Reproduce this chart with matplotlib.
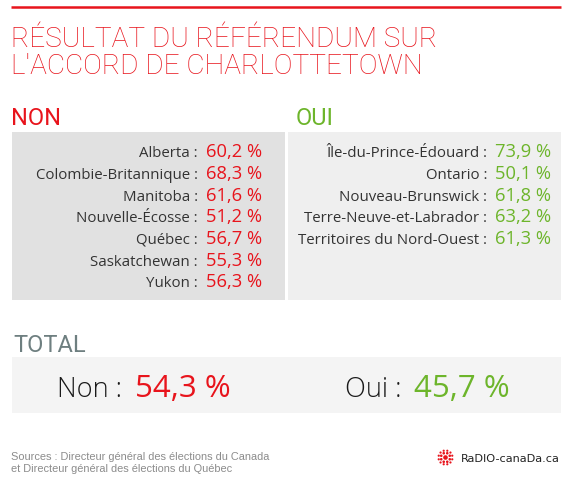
import matplotlib
matplotlib.use("Agg")
import matplotlib.pyplot as plt
from matplotlib.patches import Rectangle, Circle
import numpy as np

# Data
title_lines = ["RÉSULTAT DU RÉFÉRENDUM SUR", "L'ACCORD DE CHARLOTTETOWN"]
non_provinces = ["Alberta", "Colombie-Britannique", "Manitoba", "Nouvelle-Écosse",
                 "Québec", "Saskatchewan", "Yukon"]
non_values = [60.2, 68.3, 61.6, 51.2, 56.7, 55.3, 56.3]
oui_provinces = ["Île-du-Prince-Édouard", "Ontario", "Nouveau-Brunswick",
                 "Terre-Neuve-et-Labrador", "Territoires du Nord-Ouest"]
oui_values = [73.9, 50.1, 61.8, 63.2, 61.3]
total_labels = ["Non", "Oui"]
total_values = [54.3, 45.7]
sources = ["Sources : Directeur général des élections du Canada",
           "et Directeur général des élections du Québec"]

RED = "#e8141c"
GREEN = "#6db52b"
DARK = "#333333"

def fmt(v):
    return f"{v:.1f}".replace(".", ",") + " %"

W, H = 567, 480
fig = plt.figure(figsize=(W / 100, H / 100), dpi=100)
ax = fig.add_axes([0, 0, 1, 1])
ax.set_xlim(0, W)
ax.set_ylim(H, 0)
ax.axis("off")
fig.patch.set_facecolor("white")

r = fig.canvas.get_renderer()
inv = ax.transData.inverted()

def left_of(t):
    bb = t.get_window_extent(renderer=r)
    return inv.transform((bb.x0, bb.y0))[0]

def right_of(t):
    bb = t.get_window_extent(renderer=r)
    return inv.transform((bb.x1, bb.y0))[0]

# top red rule
ax.plot([11, 561], [7.3, 7.3], color=RED, lw=1.8, solid_capstyle="butt")

# title
for i, line in enumerate(title_lines):
    ax.text(11, 47 + 26.5 * i, line, color=RED, fontsize=20.2, family="Roboto",
            fontweight="light", va="baseline", ha="left")

# column headers
ax.text(11, 125, "NON", color=RED, fontsize=17, family="Roboto", va="baseline")
ax.text(296, 125, "OUI", color=GREEN, fontsize=17, family="Roboto", va="baseline")

# boxes
ax.add_patch(Rectangle((11.5, 132), 273.5, 168, facecolor="#e1e1e1", edgecolor="none"))
ax.add_patch(Rectangle((288, 132), 273, 168, facecolor="#efefef", edgecolor="none"))
ax.add_patch(Rectangle((11.5, 357), 549.5, 56, facecolor="#f4f4f4", edgecolor="none"))

def draw_rows(names, values, xr, color):
    for i, (n, v) in enumerate(zip(names, values)):
        y = 157.3 + 21.65 * i
        t = ax.text(xr, y, fmt(v), color=color, fontsize=13.2, family="Open Sans",
                    ha="right", va="baseline")
        x0 = left_of(t)
        ax.text(x0 - 8, y, n + " :", color=DARK, fontsize=10.8, family="Open Sans",
                ha="right", va="baseline")

draw_rows(non_provinces, non_values, 262, RED)
draw_rows(oui_provinces, oui_values, 551, GREEN)

# total
ax.text(13, 352, "TOTAL", color="#6e7f80", fontsize=17, family="Roboto",
        va="baseline")
for lab, v, x, col in zip(total_labels, total_values, [57, 345], [RED, GREEN]):
    t = ax.text(x, 397, lab + " :", color="#1a1a1a", fontsize=19.5, family="Open Sans",
                fontweight="light", va="baseline")
    ax.text(right_of(t) + 13, 397, fmt(v), color=col, fontsize=22.5, family="Open Sans",
            va="baseline")

# sources
for i, s in enumerate(sources):
    ax.text(11, 460 + 12.5 * i, s, color="#8c8c8c", fontsize=7.9,
            family="Liberation Sans", va="baseline")

# logo
cx, cy = 445.5, 457.5
ax.add_patch(Circle((cx, cy), 2.3, color=RED, lw=0))
for rad, n, s in [(4.6, 8, 1.3), (7.0, 12, 1.1)]:
    for a in np.linspace(0, 2 * np.pi, n, endpoint=False) + np.pi / n:
        ax.add_patch(Circle((cx + rad * np.cos(a), cy + rad * np.sin(a)), s,
                            color=RED, lw=0))
ax.text(560, 461.5, "RaDIO-canaDa.ca", color="#222222", fontsize=8.1,
        family="DejaVu Sans", va="baseline", ha="right")

fig.savefig("out.png", dpi=100, facecolor="white")
